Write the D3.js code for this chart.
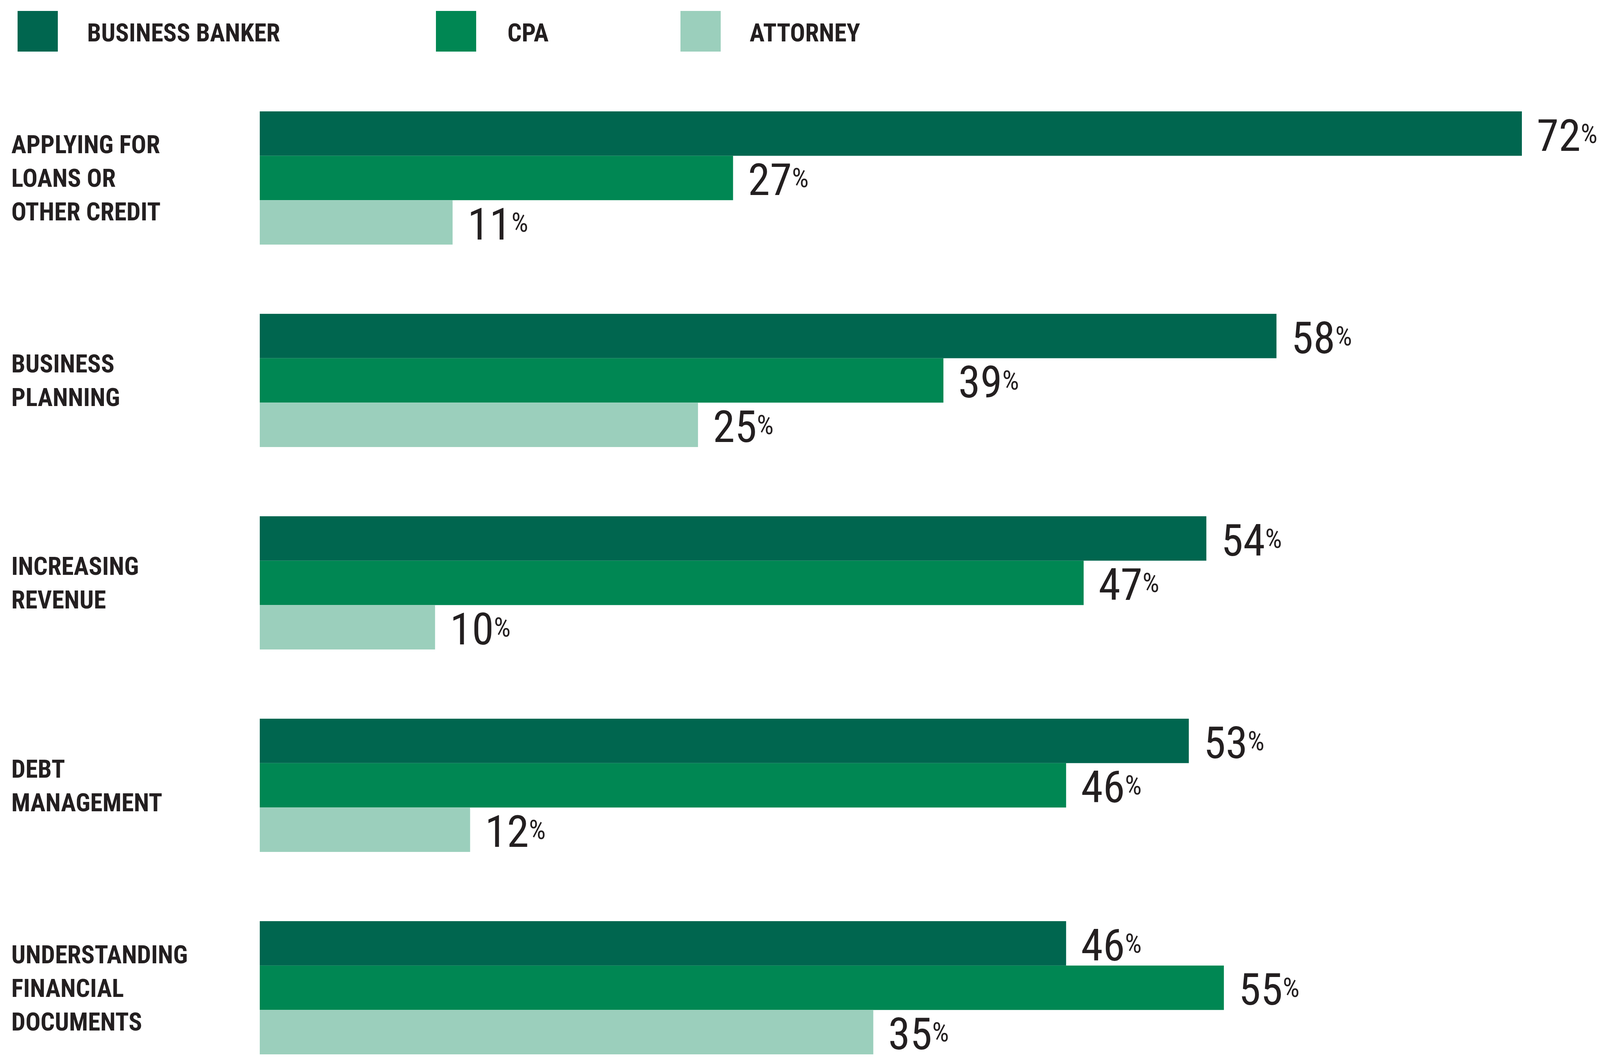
<!DOCTYPE html>
<html><head><meta charset="utf-8">
<script src="https://cdn.jsdelivr.net/npm/d3@7"></script>
<style>body{margin:0;background:#fff}</style></head>
<body><svg id="c" width="4118" height="2715"></svg>
<script>
const categories = [["APPLYING FOR","LOANS OR","OTHER CREDIT"],["BUSINESS","PLANNING"],["INCREASING","REVENUE"],["DEBT","MANAGEMENT"],["UNDERSTANDING","FINANCIAL","DOCUMENTS"]];
const seriesNames = ["BUSINESS BANKER","CPA","ATTORNEY"];
const banker = [72,58,54,53,46];
const cpa = [27,39,47,46,55];
const attorney = [11,25,10,12,35];
const colors = ["#00664f","#008753","#9bcfbc"];
const series = [banker,cpa,attorney];
const svg = d3.select("#c");
const labelFont = "'Liberation Sans Narrow','Roboto Condensed',Roboto,sans-serif";
const idx = d3.range(categories.length);
const x = d3.scaleLinear().domain([0,72]).range([665,3896]);
const yg = d3.scaleBand().domain(idx).range([285,2698]).paddingInner(0.342).paddingOuter(0);
const ys = d3.scaleBand().domain([0,1,2]).range([0,yg.bandwidth()]);
// legend
const legX = [45,1116,1742], legT=[223,1299,1919];
seriesNames.forEach((n,i)=>{
  svg.append("rect").attr("x",legX[i]).attr("y",28).attr("width",103).attr("height",104).attr("fill",colors[i]);
  svg.append("text").attr("x",legT[i]).attr("y",106).attr("font-family",labelFont).attr("font-weight","bold").attr("font-size",64).attr("fill","#231f20").text(n);
});
idx.forEach(c=>{
  const g = svg.append("g").attr("transform",`translate(0,${yg(c)})`);
  const center = yg.bandwidth()/2;
  const lines = categories[c];
  lines.forEach((l,i)=>{
    g.append("text").attr("x",29).attr("y",center+(i-(lines.length-1)/2)*86+23)
     .attr("font-family",labelFont).attr("font-weight","bold").attr("font-size",64).attr("fill","#231f20").text(l);
  });
  series.forEach((s,si)=>{
    const v=s[c];
    g.append("rect").attr("x",x(0)).attr("y",ys(si)).attr("width",x(v)-x(0)).attr("height",ys.bandwidth()).attr("fill",colors[si]);
    const t=g.append("text").attr("x",x(v)+38).attr("y",ys(si)+ys.bandwidth()-13)
      .attr("font-family",labelFont).attr("fill","#231f20");
    t.append("tspan").attr("font-size",114).text(v);
    t.append("tspan").attr("font-size",68).attr("dy",-20).text("%");
  });
});
</script></body></html>
